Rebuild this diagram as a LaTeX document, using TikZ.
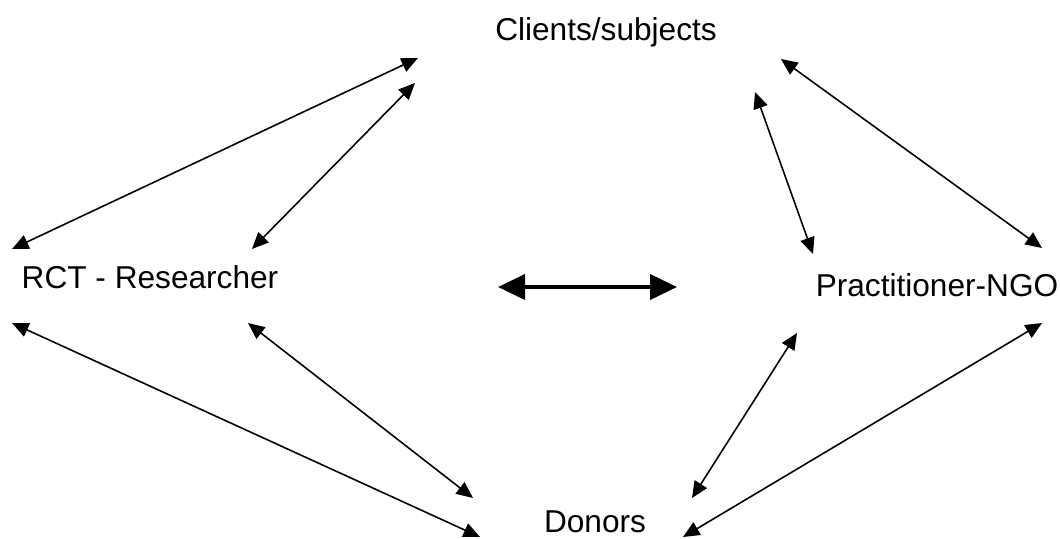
\documentclass[tikz,border=0pt]{standalone}
\usepackage{fontspec}
\setmainfont{Liberation Sans}
\usetikzlibrary{arrows.meta, positioning}
\tikzset{
  actor/.style  = {anchor=base, inner sep=0pt, font=\fontsize{18}{21}\selectfont},
  link/.style   = {{Triangle[length=0.33cm, width=0.29cm]}-{Triangle[length=0.33cm, width=0.29cm]},
                   line width=0.9pt, color=black},
  biglink/.style= {{Triangle[length=0.54cm, width=0.5cm]}-{Triangle[length=0.54cm, width=0.5cm]},
                   line width=2.2pt, color=black},
}
\begin{document}
\begin{tikzpicture}[x=0.02cm, y=-0.02cm]
  \useasboundingbox (0,0) rectangle (1060,538);

  % ── actors
  \node[actor] (cli) at (606,40)  {Clients/subjects};
  \node[actor] (rct) at (150,288) {RCT - Researcher};
  \node[actor] (ngo) at (937,296) {Practitioner-NGO};
  \node[actor] (don) at (595,532) {Donors};

  % ── researcher <-> clients
  \draw[link] ([shift={(-138,-39)}]rct.base) -- ([shift={(-188,18)}]cli.base);
  \draw[link] ([shift={(102,-39)}]rct.base)  -- ([shift={(-191,43)}]cli.base);

  % ── practitioner <-> clients
  \draw[link] ([shift={(105,-48)}]ngo.base)  -- ([shift={(175,19)}]cli.base);
  \draw[link] ([shift={(-124,-42)}]ngo.base) -- ([shift={(149,52)}]cli.base);

  % ── researcher <-> donors
  \draw[link] ([shift={(-138,35)}]rct.base)  -- ([shift={(-115,5)}]don.base);
  \draw[link] ([shift={(98,35)}]rct.base)    -- ([shift={(-122,-34)}]don.base);

  % ── practitioner <-> donors
  \draw[link] ([shift={(-140,37)}]ngo.base)  -- ([shift={(97,-34)}]don.base);
  \draw[link] ([shift={(105,27)}]ngo.base)   -- ([shift={(88,5)}]don.base);

  % ── researcher <-> practitioner
  \draw[biglink] ([shift={(348,-1)}]rct.base) -- ([shift={(-260,-9)}]ngo.base);

\end{tikzpicture}
\end{document}
